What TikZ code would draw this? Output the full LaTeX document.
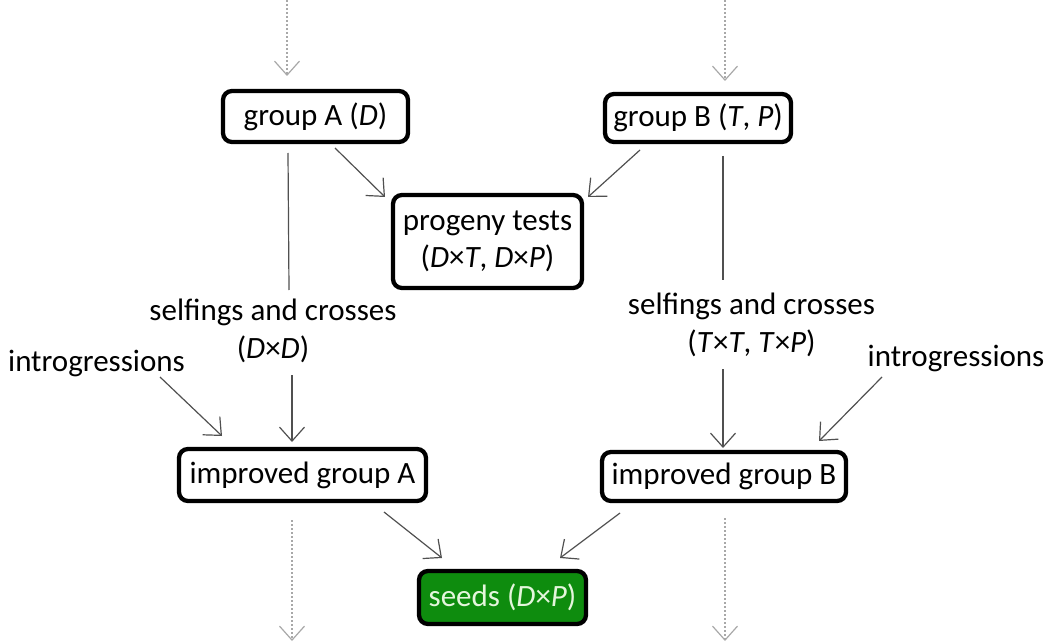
\documentclass[tikz,border=0pt]{standalone}
\usepackage{fontspec}
\setmainfont{Carlito}
\usetikzlibrary{arrows.meta}
\definecolor{seedgreen}{HTML}{0E8C0E}
\definecolor{seedtext}{HTML}{E4F6DC}
\definecolor{linegray}{HTML}{505050}
\definecolor{dotgray}{HTML}{A8A8A8}
\tikzset{
  boxnode/.style={draw=black, line width=4.3pt, rounded corners=9pt, fill=white, inner sep=0pt, align=center, font=\fontsize{31}{37}\selectfont},
  lbl/.style={align=center, inner sep=0pt, font=\fontsize{31}{38}\selectfont},
  tip/.style={-{Straight Barb[length=14pt,width=25pt,line width=1.2pt]}},
  conn/.style={draw=linegray, line width=1.2pt},
  dotconn/.style={draw=dotgray, line width=1.2pt, dash pattern=on 2pt off 2pt, -{Straight Barb[length=14pt,width=25pt,line width=1.2pt,sep=0pt]}},
}
\begin{document}
\begin{tikzpicture}[x=1pt,y=-1pt]
\useasboundingbox (0,0) rectangle (1046,644);
% boxes
\node[boxnode, minimum width=185pt, minimum height=51pt] (gA) at (315.5,116.5) {group A (\textit{D})};
\node[boxnode, minimum width=186pt, minimum height=48pt] (gB) at (698,118) {group B (\textit{T}, \textit{P})};
\node[boxnode, minimum width=189pt, minimum height=93pt] (prog) at (487.5,241.5) {progeny tests\\(\textit{D}×\textit{T}, \textit{D}×\textit{P})};
\node[boxnode, minimum width=247pt, minimum height=52pt] (impA) at (302.5,475) {improved group A};
\node[boxnode, minimum width=244pt, minimum height=49pt] (impB) at (724,476.5) {improved group B};
\node[boxnode, fill=seedgreen, text=seedtext, minimum width=167pt, minimum height=53pt] (seeds) at (502.5,597.5) {seeds (\textit{D}×\textit{P})};
% labels
\node[lbl] (selfA) at (273,331) {selfings and crosses\\(\textit{D}×\textit{D})};
\node[lbl] (selfB) at (751.5,325) {selfings and crosses\\(\textit{T}×\textit{T}, \textit{T}×\textit{P})};
\node[lbl] (intA) at (96.5,363) {introgressions};
\node[lbl] (intB) at (956,358) {introgressions};
% connector end points
\coordinate (tA0) at (287,0);   \coordinate (tA1) at (287,76);
\coordinate (tB0) at (725,0);   \coordinate (tB1) at (725,81);
\coordinate (bA0) at (292,520); \coordinate (bA1) at (292,641);
\coordinate (bB0) at (725,518); \coordinate (bB1) at (725,641);
\coordinate (gAp0) at (335,148); \coordinate (gAp1) at (385,197);
\coordinate (gBp0) at (640,150); \coordinate (gBp1) at (588,197);
\coordinate (gAv0) at (288,153); \coordinate (gAv1) at (289,290);
\coordinate (sAv0) at (292,375); \coordinate (sAv1) at (292,442);
\coordinate (gBv0) at (723,156); \coordinate (gBv1) at (723,280);
\coordinate (sBv0) at (723,369); \coordinate (sBv1) at (723,448);
\coordinate (iA0) at (160,377);  \coordinate (iA1) at (222,436);
\coordinate (iB0) at (882,377);  \coordinate (iB1) at (819,441);
\coordinate (mA0) at (384,512);  \coordinate (mA1) at (442,558);
\coordinate (mB0) at (620,513);  \coordinate (mB1) at (560,558);
% dotted
\draw[dotconn] (tA0) -- (tA1);
\draw[dotconn] (tB0) -- (tB1);
\draw[dotconn] (bA0) -- (bA1);
\draw[dotconn] (bB0) -- (bB1);
% solid
\draw[conn,tip] (gAp0) -- (gAp1);
\draw[conn,tip] (gBp0) -- (gBp1);
\draw[conn] (gAv0) -- (gAv1);
\draw[conn,tip] (sAv0) -- (sAv1);
\draw[conn] (gBv0) -- (gBv1);
\draw[conn,tip] (sBv0) -- (sBv1);
\draw[conn,tip] (iA0) -- (iA1);
\draw[conn,tip] (iB0) -- (iB1);
\draw[conn,tip] (mA0) -- (mA1);
\draw[conn,tip] (mB0) -- (mB1);
\end{tikzpicture}
\end{document}
